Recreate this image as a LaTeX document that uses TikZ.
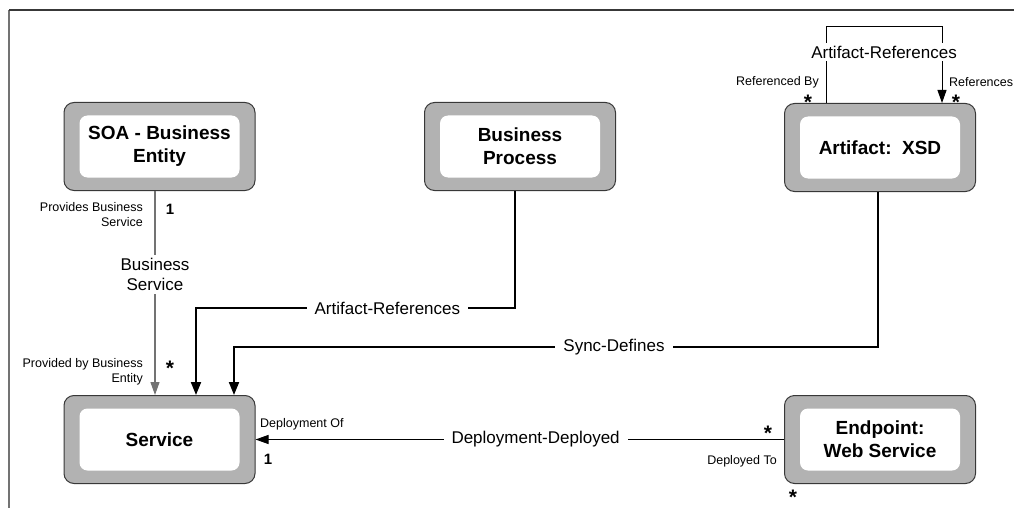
\documentclass[tikz,border=0pt]{standalone}
\usepackage{fontspec}
\setmainfont{Liberation Sans}
\usetikzlibrary{arrows.meta,positioning}
\definecolor{boxgray}{rgb}{0.70,0.70,0.70}
\definecolor{rimgray}{rgb}{0.22,0.22,0.22}
\definecolor{linegray}{rgb}{0.45,0.45,0.45}

\begin{document}
\begin{tikzpicture}[x=1pt, y=-1pt,
	entity/.style = {shape=rectangle, draw=rimgray, line width=1pt, fill=boxgray, rounded corners=10pt, minimum width=191pt, minimum height=88pt},
	caption/.style = {shape=rectangle, fill=white, rounded corners=8pt, align=center, minimum width=160pt, minimum height=62pt, font=\fontsize{19}{23}\selectfont\bfseries},
	rel/.style = {fill=white, text=black, align=center, inner xsep=8pt, inner ysep=3pt, font=\fontsize{17}{20}\selectfont},
	role/.style = {align=right, inner sep=0pt, font=\fontsize{12.5}{15}\selectfont},
	mult/.style = {anchor=base, inner sep=0pt, font=\fontsize{15}{15}\selectfont\bfseries},
	many/.style = {anchor=base, inner sep=0pt, font=\fontsize{21}{21}\selectfont\bfseries},
	link/.style = {line width=2pt, -{Triangle[length=13pt,width=10pt]}},
	thinlink/.style = {line width=1pt, -{Triangle[length=13pt,width=9pt]}}]
	\useasboundingbox (0,0) rectangle (1014,508);
	% frame
	\draw[linegray, line width=1.5pt] (9,10) -- (9,508);
	\draw[rimgray, line width=1.2pt] (9,10) -- (1014,10);
	% entities
	\node[entity] (soa) at (159.5,146.5) {};
	\node[caption] (soa-t) at (soa) {SOA - Business\\Entity};
	\node[entity] (bp) at (520,146.5) {};
	\node[caption] (bp-t) at (bp) {Business\\Process};
	\node[entity] (xsd) at (880,147.5) {};
	\node[caption] (xsd-t) at (xsd) {Artifact:\ \ XSD};
	\node[entity] (svc) at (159.5,439.5) {};
	\node[caption] (svc-t) at (svc) {Service};
	\node[entity] (ep) at (880,439.5) {};
	\node[caption] (ep-t) at (ep) {Endpoint:\\Web Service};
	% connectors
	\draw[thinlink, linegray, line width=1.2pt] ([xshift=-4.5pt]soa.south) -- node[rel, pos=0.41] (bs) {Business\\Service} ([xshift=-4.5pt]svc.north);
	\draw[link] ([xshift=-5pt]bp.south) |- node[rel, pos=0.7] (artref) {Artifact-References} ([xshift=36.5pt]svc.north |- 0,308) -- ([xshift=36.5pt]svc.north);
	\draw[link] ([xshift=-2pt]xsd.south) |- node[rel, pos=0.705] (sync) {Sync-Defines} ([xshift=74.5pt]svc.north |- 0,347) -- ([xshift=74.5pt]svc.north);
	\draw[thinlink] (ep.west) -- node[rel, pos=0.47] (deploy) {Deployment-Deployed} (svc.east);
	\draw[thinlink] ([xshift=-54pt]xsd.north) -- ++(0,-76) -| ([xshift=62pt]xsd.north);
	\node[rel, inner xsep=2pt] (selfref) at (884,52) {Artifact-References};
	% roles and multiplicities
	\node[role, anchor=east] (provides) at (143,214.5) {Provides Business\\Service};
	\node[mult] (one-a) at (170,214) {1};
	\node[role, anchor=east] (providedby) at (143,372) {Provided by Business\\Entity};
	\node[many] (many-a) at (170,375) {*};
	\node[role, anchor=east] (refby) at (819,82) {Referenced By};
	\node[many] (many-b) at (808,110) {*};
	\node[role, anchor=west] (refs) at (949,82) {References};
	\node[many] (many-c) at (956,110) {*};
	\node[role, anchor=west] (depof) at (260,424) {Deployment Of};
	\node[mult] (one-b) at (268,464.5) {1};
	\node[many] (many-d) at (768,440) {*};
	\node[role, anchor=east] (depto) at (777,461) {Deployed To};
	\node[many] (many-e) at (793,504.5) {*};
\end{tikzpicture}
\end{document}
